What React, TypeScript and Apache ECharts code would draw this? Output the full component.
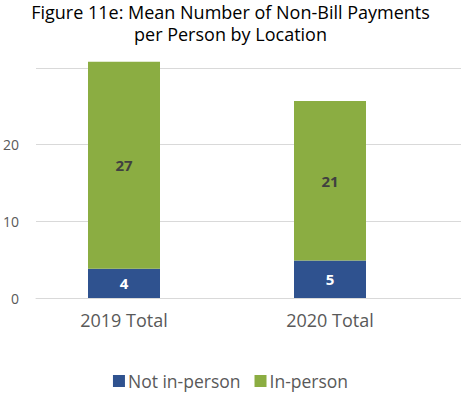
import React, { useEffect, useRef } from "react";
import * as echarts from "echarts";

const categories = ["2019 Total", "2020 Total"];
const notInPerson = [3.8, 4.9];
const inPerson = [27.0, 20.8];
const seriesNames = ["Not in-person", "In-person"];
const titleLines = ["Figure 11e: Mean Number of Non-Bill Payments", "per Person by Location"];

export default function App() {
  const ref = useRef<HTMLDivElement>(null);
  useEffect(() => {
    if (!ref.current) return;
    const chart = echarts.init(ref.current, null, { renderer: "svg" });
    const font = "'Open Sans', 'Noto Sans', sans-serif";
    chart.setOption({
      animation: false,
      backgroundColor: "#ffffff",
      title: {
        text: titleLines.join("\n"),
        left: "center",
        top: -4,
        textStyle: {
          fontFamily: font,
          fontSize: 18,
          fontWeight: "normal",
          color: "#000000",
          lineHeight: 22,
        },
      },
      legend: {
        bottom: 2,
        left: "center",
        itemWidth: 12,
        itemHeight: 12,
        itemGap: 14,
        icon: "rect",
        textStyle: { fontFamily: font, fontSize: 17.5, color: "#595959", padding: [0, 0, 0, -2] },
        data: seriesNames,
      },
      grid: [
        { left: 21, right: 28, top: 68, bottom: 99 },
        { left: 34, right: 0, top: 68, bottom: 99 },
      ],
      xAxis: [
        {
          type: "category",
          gridIndex: 0,
          data: categories,
          axisTick: { show: false },
          axisLine: { show: false },
          axisLabel: { fontFamily: font, fontSize: 18, color: "#595959", margin: 13 },
        },
        {
          type: "category",
          gridIndex: 1,
          data: categories,
          show: true,
          axisTick: { show: false },
          axisLabel: { show: false },
          axisLine: { show: true, lineStyle: { color: "#d9d9d9", width: 1 } },
          z: 10,
        },
      ],
      yAxis: [
        {
          type: "value",
          gridIndex: 0,
          min: 0,
          max: 30,
          interval: 10,
          show: false,
          splitLine: { show: false },
        },
        {
          type: "value",
          gridIndex: 1,
          min: 0,
          max: 30,
          interval: 10,
          axisLine: { show: false },
          axisTick: { show: false },
          splitLine: { lineStyle: { color: "#d9d9d9", width: 1 } },
          axisLabel: {
            fontFamily: font,
            fontSize: 14,
            color: "#595959",
            margin: 17,
            showMaxLabel: false,
          },
        },
      ],
      series: [
        {
          name: seriesNames[0],
          type: "bar",
          stack: "total",
          xAxisIndex: 0,
          yAxisIndex: 0,
          barWidth: 72,
          clip: false,
          data: notInPerson,
          itemStyle: { color: "#2F528F" },
          label: {
            show: true,
            position: "inside",
            formatter: (p: any) => Math.round(p.value).toString(),
            fontFamily: font,
            fontSize: 15,
            fontWeight: "bold",
            color: "#ffffff",
          },
        },
        {
          name: seriesNames[1],
          type: "bar",
          stack: "total",
          xAxisIndex: 0,
          yAxisIndex: 0,
          barWidth: 72,
          clip: false,
          data: inPerson,
          itemStyle: { color: "#8BAD42" },
          label: {
            show: true,
            position: "inside",
            formatter: (p: any) => Math.round(p.value).toString(),
            fontFamily: font,
            fontSize: 15,
            fontWeight: "bold",
            color: "#404040",
          },
        },
      ],
    });
    return () => chart.dispose();
  }, []);
  return <div ref={ref} style={{ width: 461, height: 397, position: "absolute", left: 0, top: 0 }} />;
}
